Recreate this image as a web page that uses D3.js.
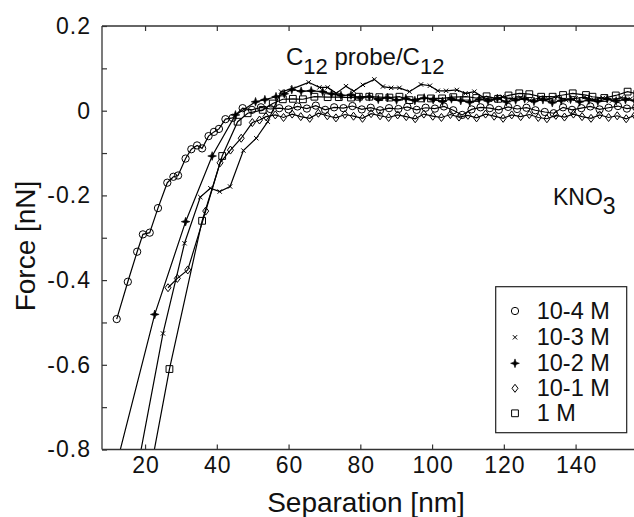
<!DOCTYPE html>
<html><head><meta charset="utf-8">
<script src="https://cdn.jsdelivr.net/npm/d3@7"></script>
<style>
body{margin:0;background:#fff;}
svg{display:block;font-family:"Liberation Sans",Arial,Helvetica,sans-serif;}
</style>
</head><body><svg id="c" width="634" height="517"></svg>
<script>
// ---- data (separation nm, force nN) ----
const seriesNames = ["10-4 M","10-3 M","10-2 M","10-1 M","1 M"];
const seriesSymbols = ["circle","cross","star","diamond","square"];

const data1e4 = [[12.1,-0.492],[15.2,-0.404],[17.8,-0.333],[19.4,-0.292],[21.3,-0.288],[23.6,-0.230],[26.2,-0.170],[27.9,-0.156],[29.2,-0.153],[31.3,-0.113],[32.9,-0.091],[34.5,-0.082],[35.9,-0.089],[37.7,-0.060],[39.2,-0.050],[40.6,-0.043],[42.4,-0.020],[44.4,-0.017],[47.2,0.006],[49.8,0.002],[52.3,0.008],[54.9,0.004],[57.4,0.006],[60.0,0.003],[62.5,0.010],[65.1,0.005],[67.6,0.012],[70.2,0.002],[72.7,0.008],[75.3,0.006],[77.8,0.011],[80.4,0.003],[82.9,0.007],[85.5,0.001],[88.0,0.006],[90.6,0.004],[93.1,0.009],[95.7,0.002],[98.2,0.007],[100.8,0.005],[103.3,0.010],[105.9,0.001],[108.4,-0.010],[111.0,0.003],[113.5,0.008],[116.1,0.006],[118.6,0.002],[121.2,0.009],[123.7,0.004],[126.3,0.007],[128.8,0.001],[131.4,-0.003],[133.9,-0.006],[136.5,0.008],[139.0,0.002],[141.6,0.006],[144.1,0.010],[146.7,0.003],[149.2,0.007],[151.8,0.011],[154.3,0.005],[156.9,0.008]];

const data1e3 = [[17.0,-0.885],[25.0,-0.526],[31.0,-0.313],[35.4,-0.204],[38.2,-0.183],[40.8,-0.191],[43.7,-0.179],[47.4,-0.094],[51.0,-0.065],[54.2,-0.026],[57.9,0.045],[61.2,0.052],[65.6,0.067],[68.6,0.055],[70.9,0.055],[73.3,0.041],[76.0,0.058],[78.2,0.046],[80.7,0.061],[83.9,0.074],[86.3,0.057],[88.6,0.054],[90.9,0.054],[93.7,0.045],[96.9,0.062],[99.4,0.059],[101.6,0.047],[103.9,0.047],[106.9,0.049],[109.3,0.041],[111.8,0.045],[114.5,0.030],[117.0,0.026],[119.6,0.033],[122.1,0.028],[124.7,0.031],[127.2,0.024],[129.8,0.030],[132.3,0.027],[134.9,0.033],[137.4,0.025],[140.0,0.029],[142.5,0.032],[145.1,0.026],[147.6,0.030],[150.2,0.024],[152.7,0.031],[155.3,0.028]];

const data1e2 = [[9.5,-0.920],[22.7,-0.481],[31.3,-0.262],[38.7,-0.107],[45.2,-0.010],[50.8,0.021],[53.4,0.026],[56.5,0.033],[58.8,0.040],[60.9,0.050],[63.5,0.046],[66.3,0.047],[69.5,0.045],[72.0,0.040],[74.6,0.036],[77.4,0.037],[79.9,0.030],[82.5,0.033],[85.0,0.027],[87.6,0.031],[90.1,0.025],[92.7,0.029],[95.2,0.024],[97.8,0.030],[100.3,0.026],[102.9,0.022],[105.4,0.028],[108.0,0.024],[110.5,0.020],[113.1,0.027],[115.6,0.023],[118.2,0.029],[120.7,0.021],[123.3,0.025],[125.8,0.028],[128.4,0.022],[130.9,0.026],[133.5,0.019],[136.0,0.024],[138.6,0.027],[141.1,0.021],[143.7,0.025],[146.2,0.022],[148.8,0.028],[151.3,0.023],[153.9,0.026],[156.4,0.024]];

const data1e1 = [[26.4,-0.418],[29.0,-0.396],[31.9,-0.376],[36.9,-0.237],[40.9,-0.123],[43.8,-0.093],[46.8,-0.065],[49.9,-0.028],[51.9,-0.022],[53.7,-0.014],[56.3,-0.010],[58.6,-0.016],[61.0,-0.008],[63.4,-0.014],[65.9,-0.018],[68.3,-0.006],[70.8,-0.012],[73.2,-0.017],[75.7,-0.009],[78.1,-0.013],[80.6,-0.018],[83.0,-0.007],[85.5,-0.012],[87.9,-0.016],[90.4,-0.010],[92.8,-0.014],[95.3,-0.019],[97.7,-0.008],[100.2,-0.013],[102.6,-0.016],[105.1,-0.009],[107.5,-0.015],[110.0,-0.011],[112.4,-0.017],[114.9,-0.008],[117.3,-0.013],[119.8,-0.018],[122.2,-0.010],[124.7,-0.014],[127.1,-0.009],[129.6,-0.016],[132.0,-0.019],[134.5,-0.011],[136.9,-0.015],[139.4,-0.008],[141.8,-0.014],[144.3,-0.018],[146.7,-0.010],[149.2,-0.016],[151.6,-0.012],[154.1,-0.019],[156.5,-0.011]];

const data1 = [[20.5,-0.895],[26.8,-0.610],[35.9,-0.260],[41.5,-0.107],[45.8,-0.026],[48.6,-0.006],[52.8,0.002],[55.6,0.017],[58.4,0.027],[61.2,0.028],[64.0,0.027],[67.2,0.033],[70.9,0.032],[74.0,0.032],[77.4,0.031],[79.6,0.033],[82.5,0.033],[85.3,0.032],[88.1,0.031],[90.9,0.033],[93.7,0.025],[96.9,0.029],[99.7,0.029],[102.8,0.029],[105.9,0.032],[109.5,0.033],[112.3,0.030],[115.2,0.034],[118.4,0.028],[121.3,0.036],[124.3,0.041],[127.1,0.039],[130.4,0.033],[133.6,0.033],[136.5,0.037],[139.2,0.041],[142.9,0.037],[144.7,0.033],[148.0,0.030],[151.2,0.036],[154.5,0.045],[157.2,0.040]];

const xTicks = [20,40,60,80,100,120,140];
const yTicks = [0.2,0,-0.2,-0.4,-0.6,-0.8];
const yMinorTicks = [0.1,-0.1,-0.3,-0.5,-0.7];
const xDomain = [8,156];
const yDomain = [-0.8,0.2];

// ---- drawing ----
const svg = d3.select("#c");
const L=102, R=633, T=26, B=449.5;
const x = d3.scaleLinear().domain(xDomain).range([L,R]);
const y = d3.scaleLinear().domain(yDomain).range([B,T]);

svg.append("defs").append("clipPath").attr("id","clip")
  .append("rect").attr("x",L).attr("y",T).attr("width",R-L+2).attr("height",B-T);

const star4 = {draw(ctx,size){
  const Ro=Math.sqrt(size)*0.62, ri=Ro*0.36;
  for(let i=0;i<8;i++){
    const a=i*Math.PI/4-Math.PI/2, rr=(i%2)?ri:Ro;
    const px=Math.cos(a)*rr, py=Math.sin(a)*rr;
    if(i===0) ctx.moveTo(px,py); else ctx.lineTo(px,py);
  }
  ctx.closePath();
}};
const diamondTall = {draw(ctx,size){
  const h=Math.sqrt(size)*0.58, w=h*0.75;
  ctx.moveTo(0,-h);ctx.lineTo(w,0);ctx.lineTo(0,h);ctx.lineTo(-w,0);ctx.closePath();
}};
function symbolPath(kind){
  switch(kind){
    case "circle": return d3.symbol().type(d3.symbolCircle).size(42)();
    case "cross": return d3.symbol().type(d3.symbolX).size(14)();
    case "star": return d3.symbol().type(star4).size(50)();
    case "diamond": return d3.symbol().type(diamondTall).size(48)();
    case "square": return d3.symbol().type(d3.symbolSquare).size(46)();
  }
}
function styleSym(sel,kind){
  if(kind==="star") sel.attr("fill","#000").attr("stroke","#000").attr("stroke-width",0.6);
  else sel.attr("fill","none").attr("stroke","#000").attr("stroke-width",1);
}

const allSeries = [data1e4,data1e3,data1e2,data1e1,data1];
const plot = svg.append("g").attr("clip-path","url(#clip)");
const line = d3.line().x(d=>x(d[0])).y(d=>y(d[1]));

allSeries.forEach((ds,i)=>{
  plot.append("path").datum(ds).attr("d",line)
    .attr("fill","none").attr("stroke","#000").attr("stroke-width",1.2);
});
allSeries.forEach((ds,i)=>{
  const k=seriesSymbols[i];
  const g=plot.append("g");
  g.selectAll("path").data(ds).join("path")
    .attr("transform",d=>`translate(${x(d[0])},${y(d[1])})`)
    .attr("d",symbolPath(k))
    .call(styleSym,k);
});

// axes frame (top, bottom, left)
const ax = svg.append("g").attr("stroke","#333").attr("stroke-width",1.3);
ax.append("line").attr("x1",L).attr("x2",634).attr("y1",B).attr("y2",B);
ax.append("line").attr("x1",L).attr("x2",634).attr("y1",T).attr("y2",T);
ax.append("line").attr("x1",L).attr("x2",L).attr("y1",T).attr("y2",B);

// axes via d3
const xAxisB = svg.append("g").attr("transform",`translate(0,${B})`)
  .call(d3.axisBottom(x).tickValues(xTicks).tickSize(-5).tickPadding(10).tickFormat(d3.format("d")));
const xAxisT = svg.append("g").attr("transform",`translate(0,${T})`)
  .call(d3.axisTop(x).tickValues(xTicks).tickSize(-5).tickFormat(""));
const yAxisL = svg.append("g").attr("transform",`translate(${L},0)`)
  .call(d3.axisLeft(y).tickValues(yTicks.concat(yMinorTicks)).tickSize(-5).tickPadding(12)
    .tickFormat(d=> yTicks.some(t=>Math.abs(t-d)<1e-9) ? (d===0?"0":d3.format(".1f")(d).replace("−","-")) : ""));
[xAxisB,xAxisT,yAxisL].forEach(a=>{
  a.select(".domain").remove();
  a.selectAll(".tick line").attr("stroke","#333").attr("stroke-width",1.2);
  a.selectAll("text").attr("font-size",23).attr("fill","#111").attr("letter-spacing","1px")
    .attr("font-family",'"Liberation Sans",Arial,sans-serif');
});
xAxisB.selectAll("text").attr("dy","0.71em").attr("y",7).attr("dx","0.5px");
yAxisL.selectAll("text").attr("x",-11);

// axis titles
svg.append("text").attr("x",366).attr("y",512).attr("text-anchor","middle")
  .attr("font-size",28).attr("fill","#111").text("Separation [nm]");
svg.append("text").attr("transform","translate(35,246) rotate(-90)").attr("text-anchor","middle")
  .attr("font-size",28).attr("fill","#111").text("Force [nN]");

// annotations
const ann = svg.append("text").attr("x",286).attr("y",65).attr("font-size",24).attr("fill","#111");
ann.append("tspan").text("C");
ann.append("tspan").attr("dy",9).attr("font-size",22).text("12");
ann.append("tspan").attr("dy",-9).text(" probe/C");
ann.append("tspan").attr("dy",9).attr("font-size",22).text("12");

const kno = svg.append("text").attr("x",553).attr("y",205).attr("font-size",23).attr("fill","#111");
kno.append("tspan").text("KNO");
kno.append("tspan").attr("dy",9).attr("font-size",23).text("3");

// legend
const lg = svg.append("g");
lg.append("rect").attr("x",495.7).attr("y",286.7).attr("width",131).attr("height",146)
  .attr("fill","#fff").attr("stroke","#222").attr("stroke-width",1.2);
const rowY = [311,337.3,363.3,388.3,413.3];
seriesNames.forEach((n,i)=>{
  const k=seriesSymbols[i];
  lg.append("path").attr("transform",`translate(515,${rowY[i]})`)
    .attr("d",symbolPath(k)).call(styleSym,k);
  lg.append("text").attr("x",536.7).attr("y",rowY[i]+8).attr("font-size",23.5).attr("fill","#111").text(n);
});
</script>
</body></html>
